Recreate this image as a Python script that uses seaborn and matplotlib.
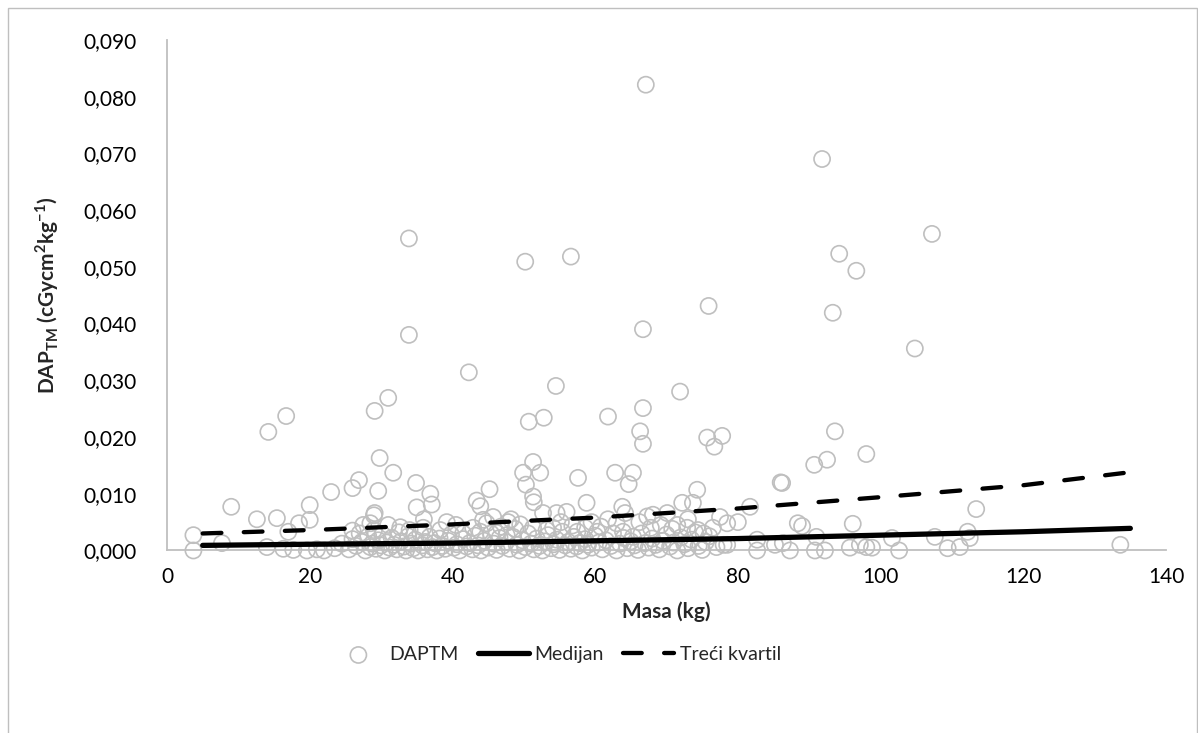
import matplotlib
matplotlib.use('Agg')
import matplotlib.pyplot as plt
import pandas as pd
import seaborn as sns
from matplotlib.ticker import FuncFormatter, MultipleLocator
from matplotlib.patches import Rectangle

# high outliers
high_masa = [67.1, 91.8, 107.2, 94.2, 96.6, 75.9, 93.3, 104.8, 66.7, 33.9, 50.2, 56.6, 33.9, 42.3,
             54.5, 71.9, 31.0, 29.1, 66.7, 16.7, 14.2, 52.8, 50.7, 61.8, 66.3, 66.7, 75.7, 77.8,
             76.7, 93.6, 98.0, 92.5, 90.7, 29.8, 31.7, 51.3, 49.9, 52.3, 62.8, 65.3, 86.0]
high_dap = [0.0821, 0.0690, 0.0558, 0.0523, 0.0493, 0.0431, 0.0419, 0.0356, 0.0390, 0.0550, 0.0509,
            0.0518, 0.0380, 0.0314, 0.0290, 0.0280, 0.0269, 0.0246, 0.0251, 0.0237, 0.0209, 0.0234,
            0.0227, 0.0236, 0.0210, 0.0188, 0.0199, 0.0202, 0.0183, 0.0210, 0.0170, 0.0160, 0.0151,
            0.0163, 0.0137, 0.0156, 0.0137, 0.0137, 0.0137, 0.0137, 0.0120]

# mid level points
mid_masa = [3.7, 3.7, 7.7, 9.0, 12.6, 15.4, 14.0, 17.0, 18.5, 20.0, 20.0, 16.3, 17.7, 19.6, 21.0,
            23.0, 26.0, 26.9, 29.6, 29.1, 29.0, 27.5, 34.9, 36.9, 37.1, 35.0, 43.4, 43.9, 45.2,
            45.7, 44.3, 50.3, 51.3, 51.4, 57.6, 58.8, 63.8, 64.7, 52.7, 54.6, 56.0, 32.7, 34.0,
            35.9, 38.3, 42.9, 43.9, 46.2, 47.6, 51.3, 53.2, 54.1, 57.5, 58.6, 60.3, 62.5, 63.9,
            65.3, 64.2, 72.2, 73.7, 74.3, 81.7, 77.5, 78.5, 80.0, 68.1, 67.3, 70.1, 71.5, 72.9,
            74.4, 86.2, 88.4, 89.0, 96.1, 91.0, 101.6, 107.6, 112.2, 112.5, 113.4, 82.7, 82.7,
            85.2, 86.3, 87.3, 90.8, 92.2, 95.7, 97.1, 98.0, 98.8, 102.6, 109.4, 111.1, 78.0, 133.6,
            40.5, 41.5, 44.8, 46.8, 47.8, 48.8, 49.5, 55.2, 56.8, 59.5, 60.8, 61.8, 63.0, 66.2,
            67.8, 69.2, 70.8, 73.0, 75.2, 76.5, 48.2, 39.2, 36.0, 31.0, 28.5, 26.0]
mid_dap = [0.0027, 0.0000, 0.0013, 0.0077, 0.0055, 0.0057, 0.0006, 0.0033, 0.0048, 0.0080, 0.0054,
           0.0003, 0.0001, 0.0000, 0.0002, 0.0103, 0.0110, 0.0124, 0.0105, 0.0066, 0.0062, 0.0045,
           0.0119, 0.0100, 0.0081, 0.0076, 0.0088, 0.0078, 0.0108, 0.0059, 0.0054, 0.0116, 0.0095,
           0.0085, 0.0128, 0.0084, 0.0077, 0.0117, 0.0066, 0.0066, 0.0068, 0.0041, 0.0036, 0.0040,
           0.0036, 0.0040, 0.0033, 0.0031, 0.0027, 0.0040, 0.0036, 0.0040, 0.0033, 0.0040, 0.0033,
           0.0030, 0.0033, 0.0024, 0.0066, 0.0084, 0.0084, 0.0107, 0.0077, 0.0059, 0.0048, 0.0050,
           0.0063, 0.0060, 0.0066, 0.0045, 0.0040, 0.0036, 0.0119, 0.0048, 0.0043, 0.0047, 0.0024,
           0.0022, 0.0024, 0.0033, 0.0022, 0.0073, 0.0019, 0.0000, 0.0010, 0.0013, 0.0000, 0.0000,
           0.0000, 0.0005, 0.0010, 0.0006, 0.0005, 0.0000, 0.0004, 0.0006, 0.0010, 0.0010,
           0.0045, 0.0030, 0.0048, 0.0042, 0.0050, 0.0038, 0.0046, 0.0050, 0.0044, 0.0050, 0.0042,
           0.0055, 0.0048, 0.0050, 0.0040, 0.0045, 0.0038, 0.0055, 0.0030, 0.0040, 0.0055, 0.0050,
           0.0055, 0.0045, 0.0048, 0.0035]

# dense low cluster
low_masa = [22.0, 23.5, 24.5, 25.5, 26.0, 26.5, 27.0, 27.3, 27.8, 28.2, 28.5, 28.8, 29.0, 29.3, 29.6,
            30.0, 30.2, 30.5, 30.8, 31.2, 31.5, 31.8, 32.2, 32.5, 32.8, 33.2, 33.5, 33.8, 34.2, 34.5,
            34.8, 35.2, 35.5, 35.8, 36.2, 36.5, 36.8, 37.2, 37.5, 37.8, 38.2, 38.6, 39.0, 39.4, 39.8,
            40.2, 40.6, 41.0, 41.5, 42.0, 42.4, 42.8, 43.2, 43.6, 44.0, 44.5, 45.0, 45.4, 45.8, 46.2,
            46.6, 47.0, 47.5, 48.0, 48.5, 49.0, 49.4, 49.8, 50.2, 50.6, 51.0, 51.4, 51.8, 52.2, 52.6,
            53.0, 53.4, 53.8, 54.2, 54.6, 55.0, 55.4, 55.8, 56.2, 56.6, 57.0, 57.4, 57.8, 58.2, 58.6,
            59.0, 59.5, 60.0, 60.5, 61.0, 61.5, 62.2, 63.0, 63.5, 64.0, 64.5, 65.0, 65.5, 66.0, 66.5,
            67.0, 67.5, 68.0, 68.5, 69.0, 69.5, 70.0, 70.5, 71.0, 71.5, 72.0, 72.5, 73.0, 73.5, 74.0,
            74.5, 75.0, 75.5, 76.0, 77.0, 78.5]
low_dap = [0.0000, 0.0004, 0.0012, 0.0002, 0.0020, 0.0008, 0.0030, 0.0015, 0.0000, 0.0025, 0.0006,
           0.0012, 0.0036, 0.0003, 0.0018, 0.0009, 0.0028, 0.0000, 0.0014, 0.0005, 0.0022, 0.0010,
           0.0002, 0.0032, 0.0016, 0.0007, 0.0000, 0.0025, 0.0012, 0.0004, 0.0019, 0.0000, 0.0030,
           0.0009, 0.0015, 0.0002, 0.0024, 0.0006, 0.0013, 0.0000, 0.0021, 0.0008, 0.0003, 0.0017,
           0.0028, 0.0005, 0.0011, 0.0000, 0.0020, 0.0007, 0.0013, 0.0002, 0.0026, 0.0009, 0.0000,
           0.0017, 0.0005, 0.0030, 0.0012, 0.0001, 0.0022, 0.0008, 0.0015, 0.0003, 0.0024, 0.0010,
           0.0000, 0.0018, 0.0006, 0.0030, 0.0012, 0.0002, 0.0021, 0.0008, 0.0000, 0.0016, 0.0027,
           0.0004, 0.0011, 0.0019, 0.0001, 0.0033, 0.0009, 0.0015, 0.0003, 0.0024, 0.0007, 0.0013,
           0.0000, 0.0020, 0.0010, 0.0005, 0.0026, 0.0014, 0.0002, 0.0018, 0.0008, 0.0000, 0.0012,
           0.0022, 0.0004, 0.0016, 0.0009, 0.0001, 0.0030, 0.0013, 0.0005, 0.0021, 0.0010, 0.0002,
           0.0017, 0.0028, 0.0007, 0.0014, 0.0000, 0.0023, 0.0011, 0.0004, 0.0019, 0.0032, 0.0008,
           0.0001, 0.0015, 0.0025, 0.0006, 0.0010]

# trend lines
trend_masa = [5, 20, 40, 60, 80, 100, 120, 135]
medijan = [0.0009, 0.0011, 0.0013, 0.0017, 0.0021, 0.0027, 0.0033, 0.0039]
treci_kvartil = [0.0030, 0.0036, 0.0046, 0.0058, 0.0074, 0.0094, 0.0115, 0.0138]

points = pd.DataFrame({'masa': high_masa + mid_masa + low_masa,
                       'dap': high_dap + mid_dap + low_dap})
trend = pd.DataFrame({'masa': trend_masa, 'med': medijan, 'q3': treci_kvartil})

sns.set_style('white')
plt.rcParams['font.family'] = ['Lato', 'DejaVu Sans']
plt.rcParams['mathtext.fontset'] = 'custom'
plt.rcParams['mathtext.bf'] = 'Lato:bold'
plt.rcParams['mathtext.rm'] = 'Lato'

fig = plt.figure(figsize=(11.98, 7.33), dpi=100)
ax = fig.add_axes([0.1394, 0.249, 0.8339, 0.6966])

sns.scatterplot(data=points, x='masa', y='dap', ax=ax, marker='o', s=135,
                facecolor='none', edgecolor='#BFBFBF', linewidth=1.2, label='DAPTM',
                zorder=2, clip_on=False)
sns.lineplot(data=trend, x='masa', y='med', ax=ax, color='black', linewidth=3.8,
             label='Medijan', zorder=3)
sns.lineplot(data=trend, x='masa', y='q3', ax=ax, color='black', linewidth=3.1,
             linestyle=(0, (4.35, 5.2)), dash_capstyle='round', label='Treći kvartil', zorder=3)

ax.set_xlim(0, 140)
ax.set_ylim(0, 0.09)
ax.xaxis.set_major_locator(MultipleLocator(20))
ax.yaxis.set_major_locator(MultipleLocator(0.01))
ax.yaxis.set_major_formatter(FuncFormatter(lambda v, p: f'{v:.3f}'.replace('.', ',')))
ax.tick_params(axis='both', length=0, labelsize=15, colors='black')
ax.tick_params(axis='y', pad=22)
ax.tick_params(axis='x', pad=12)

sns.despine(ax=ax)
for s in ['left', 'bottom']:
    ax.spines[s].set_color('#BFBFBF')
    ax.spines[s].set_linewidth(1.3)

ax.set_xlabel('Masa (kg)', fontsize=15, fontweight='bold', labelpad=10)
ax.set_ylabel(r'DAP$_\mathbf{TM}$ (cGycm$^\mathbf{2}$kg$^\mathbf{-1}$)', fontsize=15,
              fontweight='bold', labelpad=16)

handles, labels = ax.get_legend_handles_labels()
ax.get_legend().remove()
fig.legend(handles, labels, loc='center', bbox_to_anchor=(0.465, 0.107), ncol=3,
           frameon=False, fontsize=14, handlelength=2.6, columnspacing=1.0, handletextpad=0.3)

fig.patches.append(Rectangle((0.007, -0.01), 0.992, 0.999, transform=fig.transFigure,
                             fill=False, edgecolor='#BFBFBF', linewidth=1.0))

fig.savefig('out.png', dpi=100)
